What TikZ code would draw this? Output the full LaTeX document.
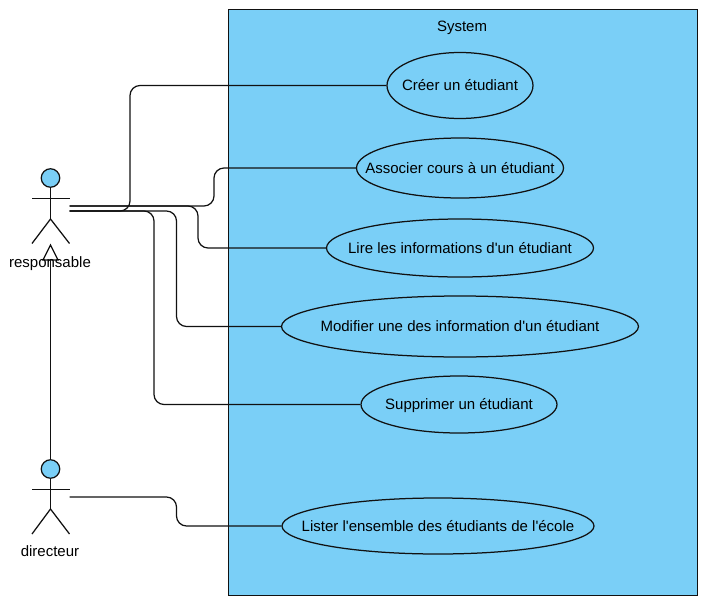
\documentclass[tikz,border=0pt]{standalone}
\usepackage{fontspec}
\newfontfamily\plainsans{Liberation Sans}
\usetikzlibrary{shapes.geometric}
\definecolor{uc}{HTML}{7ACFF7}
\definecolor{ln}{HTML}{111111}
\tikzset{
  lw/.style={line width=1.25pt,draw=ln},
  lab/.style={font=\plainsans\fontsize{15}{17}\selectfont,text=black,inner sep=0pt,text height=12pt,text depth=2pt},
  uc/.style={ellipse,lw,fill=uc,inner sep=0pt},
  head/.style={circle,lw,fill=uc,inner sep=0pt,minimum size=18.5pt},
  conn/.style={lw,rounded corners=10pt},
  limb/.style={lw}
}
\begin{document}
\begin{tikzpicture}[x=1pt,y=-1pt]
\useasboundingbox (0,0) rectangle (706,602);
\node[lw,fill=uc,minimum width=469.5pt,minimum height=586pt,inner sep=0pt,anchor=north west] (sys) at (227.5,8.8) {};
\node[lab] (systitle) at (462,27) {System};
% use cases
\node[uc,minimum width=146pt,minimum height=66pt,label={[lab]center:Créer un étudiant}] (cree) at (460,85.5) {};
\node[uc,minimum width=207pt,minimum height=60pt,label={[lab]center:Associer cours à un étudiant}] (asso) at (460,168) {};
\node[uc,minimum width=267pt,minimum height=58pt,label={[lab]center:Lire les informations d'un étudiant}] (lire) at (460,248) {};
\node[uc,minimum width=357pt,minimum height=61pt,label={[lab]center:Modifier une des information d'un étudiant}] (modi) at (460,326.5) {};
\node[uc,minimum width=196pt,minimum height=57pt,label={[lab]center:Supprimer un étudiant}] (supp) at (459,404.5) {};
\node[uc,minimum width=312pt,minimum height=56pt,label={[lab]center:Lister l'ensemble des étudiants de l'école}] (list) at (438,526) {};
% actor responsable
\node[head] (h1) at (50.5,178) {};
\coordinate (hip1) at (50.5,219);
\draw[limb] (h1.south) -- (hip1);
\coordinate (al1) at (32,198.5);
\coordinate (ar1) at (69.5,198.5);
\draw[limb] (al1) -- (ar1);
\coordinate (fl1) at (32,243.5);
\coordinate (fr1) at (69.5,243.5);
\draw[limb] (fl1) -- (hip1) -- (fr1);
% actor directeur
\node[head] (h2) at (50.5,469) {};
\coordinate (hip2) at (50.5,509);
\draw[limb] (h2.south) -- (hip2);
\coordinate (al2) at (32,489.5);
\coordinate (ar2) at (69.5,489.5);
\draw[limb] (al2) -- (ar2);
\coordinate (fl2) at (32,534);
\coordinate (fr2) at (69.5,534);
\draw[limb] (fl2) -- (hip2) -- (fr2);
% generalisation
\coordinate (tip) at (50.5,245);
\coordinate (bl) at (43,260);
\coordinate (br) at (58,260);
\coordinate (bm) at (50.5,260);
\draw[limb] (h2.north) -- (bm);
\draw[limb,line join=miter] (bl) -- (tip) -- (br) -- cycle;
% labels
\node[lab] (l1) at (50,262) {responsable};
\node[lab] (l2) at (50,551) {directeur};
% connectors
\coordinate (s1) at (69.5,206);
\coordinate (s2) at (69.5,211);
\coordinate (s3) at (69.5,497);
\coordinate (vc) at (130,0);
\coordinate (va) at (214,0);
\coordinate (vl) at (198,0);
\coordinate (vm) at (176.5,0);
\coordinate (vs) at (154,0);
\coordinate (vd) at (176.5,0);
\draw[conn] (s2) -- (s2 -| vc) -- (vc |- cree.west) -- (cree.west);
\draw[conn] (s1) -- (s1 -| va) -- (va |- asso.west) -- (asso.west);
\draw[conn] (s1) -- (s1 -| vl) -- (vl |- lire.west) -- (lire.west);
\draw[conn] (s2) -- (s2 -| vm) -- (vm |- modi.west) -- (modi.west);
\draw[conn] (s2) -- (s2 -| vs) -- (vs |- supp.west) -- (supp.west);
\draw[conn] (s3) -- (s3 -| vd) -- (vd |- list.west) -- (list.west);
\end{tikzpicture}
\end{document}
